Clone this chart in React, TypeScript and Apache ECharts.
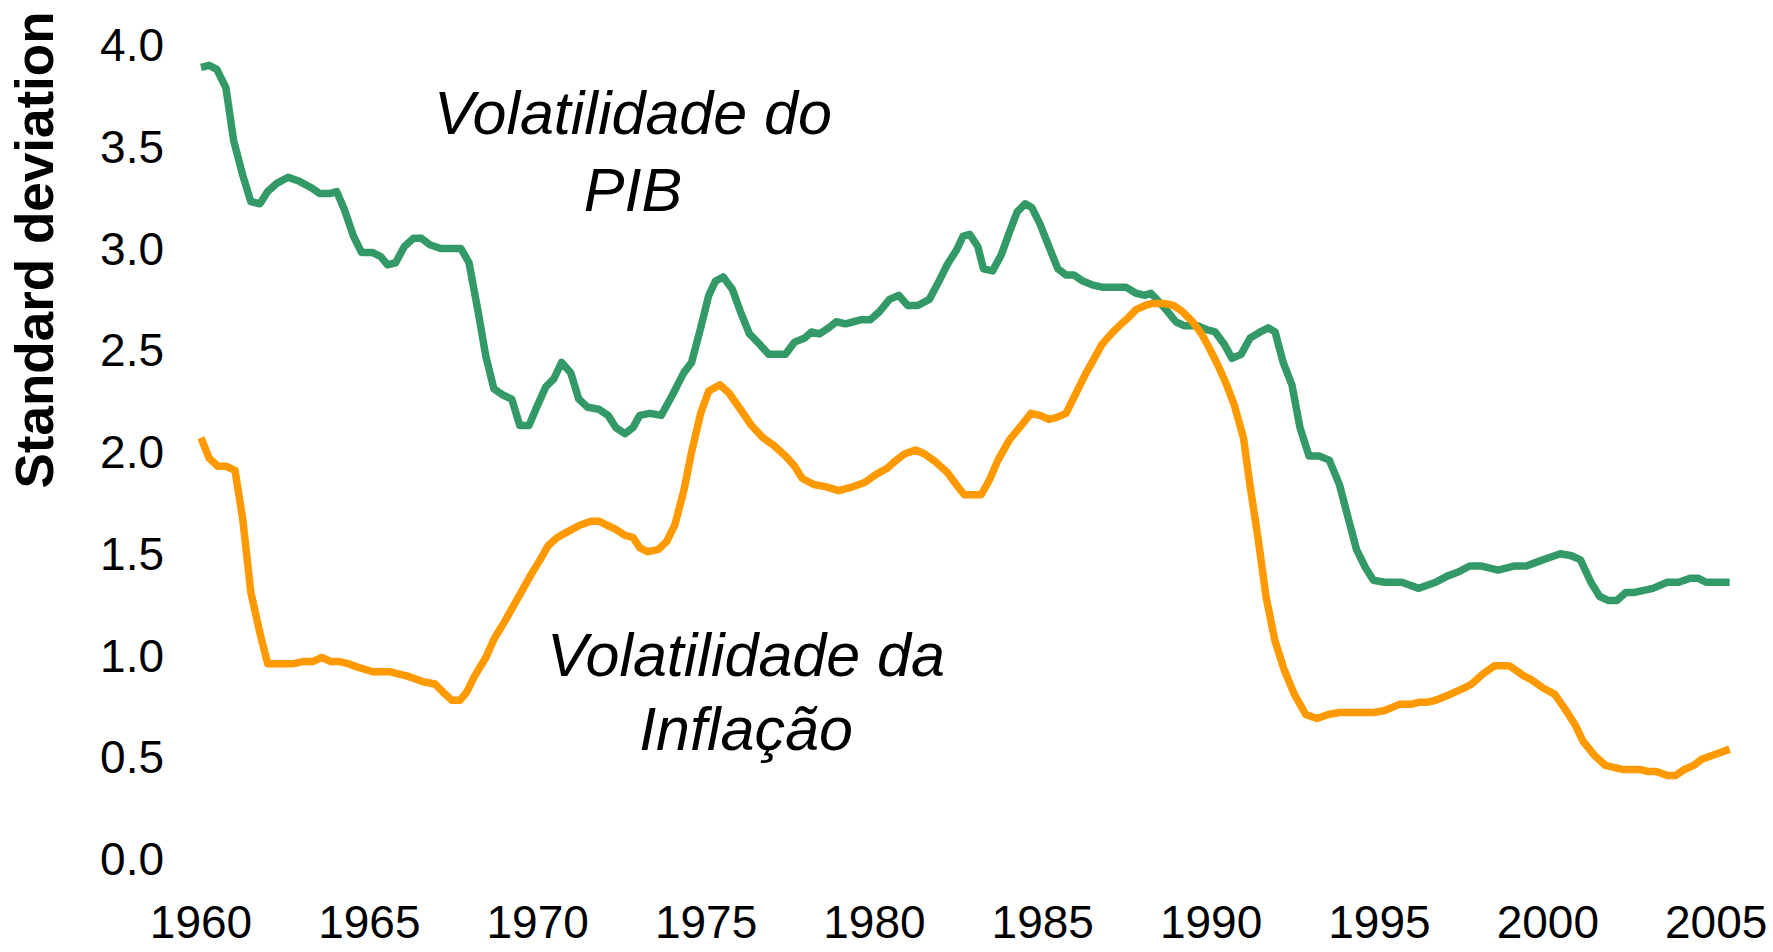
import React, { useEffect, useRef } from "react";
import * as echarts from "echarts";

const gdpYears = [1960.00,1960.24,1960.47,1960.74,1960.97,1961.24,1961.48,1961.75,1961.98,1962.25,1962.59,1962.92,1963.26,1963.53,1963.83,1964.03,1964.26,1964.53,1964.77,1965.10,1965.34,1965.54,1965.78,1966.04,1966.31,1966.55,1966.78,1967.12,1967.45,1967.72,1967.96,1968.23,1968.46,1968.70,1968.97,1969.23,1969.47,1969.74,1969.97,1970.24,1970.48,1970.71,1970.98,1971.22,1971.48,1971.82,1972.09,1972.32,1972.59,1972.83,1973.03,1973.33,1973.67,1974.00,1974.34,1974.57,1974.84,1975.08,1975.28,1975.51,1975.78,1976.02,1976.29,1976.59,1976.86,1977.19,1977.36,1977.63,1977.93,1978.13,1978.37,1978.64,1978.87,1979.14,1979.38,1979.61,1979.88,1980.15,1980.45,1980.72,1980.99,1981.29,1981.63,1981.89,1982.16,1982.43,1982.63,1982.83,1983.07,1983.24,1983.51,1983.77,1984.01,1984.24,1984.48,1984.68,1984.92,1985.18,1985.45,1985.69,1985.92,1986.19,1986.49,1986.76,1987.27,1987.47,1987.77,1988.04,1988.21,1988.44,1988.71,1988.95,1989.21,1989.62,1989.89,1990.12,1990.39,1990.62,1990.89,1991.16,1991.46,1991.70,1991.90,1992.14,1992.40,1992.64,1992.91,1993.21,1993.51,1993.81,1994.08,1994.32,1994.59,1994.82,1995.16,1995.66,1996.17,1996.67,1997.01,1997.34,1997.68,1998.01,1998.52,1999.02,1999.36,1999.69,2000.03,2000.37,2000.70,2000.97,2001.28,2001.54,2001.81,2002.05,2002.32,2002.58,2003.12,2003.55,2003.89,2004.23,2004.46,2004.70,2005.40];
const gdpValues = [3.89,3.90,3.88,3.79,3.53,3.36,3.23,3.22,3.28,3.32,3.35,3.33,3.30,3.27,3.27,3.28,3.19,3.06,2.98,2.98,2.96,2.92,2.93,3.01,3.05,3.05,3.02,3.00,3.00,3.00,2.93,2.69,2.47,2.31,2.28,2.26,2.13,2.13,2.22,2.32,2.36,2.44,2.39,2.26,2.22,2.21,2.18,2.12,2.09,2.12,2.18,2.19,2.18,2.28,2.39,2.44,2.61,2.77,2.84,2.86,2.80,2.69,2.58,2.53,2.48,2.48,2.48,2.54,2.56,2.59,2.58,2.61,2.64,2.63,2.64,2.65,2.65,2.69,2.75,2.77,2.72,2.72,2.75,2.83,2.92,2.99,3.06,3.07,3.01,2.90,2.89,2.97,3.08,3.18,3.22,3.20,3.12,3.01,2.90,2.87,2.87,2.84,2.82,2.81,2.81,2.81,2.78,2.77,2.78,2.74,2.69,2.64,2.62,2.62,2.60,2.59,2.53,2.46,2.48,2.56,2.59,2.61,2.59,2.44,2.33,2.12,1.98,1.98,1.96,1.84,1.67,1.52,1.43,1.37,1.36,1.36,1.33,1.36,1.39,1.41,1.44,1.44,1.42,1.44,1.44,1.46,1.48,1.50,1.49,1.47,1.36,1.29,1.27,1.27,1.31,1.31,1.33,1.36,1.36,1.38,1.38,1.36,1.36];

const inflYears = [1960.00,1960.24,1960.50,1960.74,1961.01,1961.24,1961.48,1961.75,1961.98,1962.42,1962.75,1963.02,1963.32,1963.59,1963.86,1964.10,1964.37,1964.70,1965.10,1965.61,1966.11,1966.62,1966.95,1967.19,1967.45,1967.69,1967.89,1968.13,1968.46,1968.70,1969.03,1969.30,1969.54,1969.81,1970.07,1970.31,1970.58,1970.91,1971.25,1971.58,1971.82,1972.06,1972.32,1972.59,1972.83,1973.03,1973.26,1973.57,1973.83,1974.07,1974.34,1974.57,1974.84,1975.08,1975.41,1975.68,1976.02,1976.35,1976.69,1977.03,1977.36,1977.63,1977.86,1978.20,1978.54,1978.94,1979.38,1979.71,1980.05,1980.38,1980.65,1980.89,1981.22,1981.49,1981.83,1982.16,1982.43,1982.67,1982.97,1983.17,1983.41,1983.67,1984.01,1984.31,1984.65,1984.92,1985.18,1985.42,1985.69,1985.99,1986.26,1986.53,1986.76,1987.03,1987.27,1987.54,1987.77,1988.04,1988.27,1988.61,1988.88,1989.15,1989.45,1989.72,1989.95,1990.22,1990.46,1990.69,1990.96,1991.16,1991.40,1991.63,1991.90,1992.17,1992.47,1992.81,1993.14,1993.48,1993.81,1994.32,1994.82,1995.16,1995.59,1995.93,1996.17,1996.40,1996.67,1997.11,1997.51,1997.74,1998.08,1998.42,1998.85,1999.29,1999.52,1999.86,2000.20,2000.54,2000.81,2001.04,2001.38,2001.71,2002.21,2002.72,2002.98,2003.22,2003.55,2003.79,2004.06,2004.33,2004.57,2004.90,2005.40];
const inflValues = [2.07,1.97,1.93,1.93,1.91,1.67,1.31,1.11,0.96,0.96,0.96,0.97,0.97,0.99,0.97,0.97,0.96,0.94,0.92,0.92,0.90,0.87,0.86,0.82,0.78,0.78,0.82,0.90,0.99,1.08,1.17,1.25,1.32,1.40,1.47,1.54,1.58,1.61,1.64,1.66,1.66,1.64,1.62,1.59,1.58,1.53,1.51,1.52,1.56,1.64,1.81,2.00,2.19,2.30,2.33,2.29,2.21,2.13,2.07,2.03,1.98,1.93,1.87,1.84,1.83,1.81,1.83,1.85,1.89,1.92,1.96,1.99,2.01,1.99,1.95,1.90,1.84,1.79,1.79,1.79,1.86,1.96,2.06,2.12,2.19,2.18,2.16,2.17,2.19,2.29,2.38,2.46,2.53,2.58,2.62,2.66,2.70,2.72,2.73,2.73,2.72,2.69,2.64,2.58,2.51,2.42,2.33,2.23,2.07,1.83,1.57,1.29,1.07,0.93,0.81,0.71,0.69,0.71,0.72,0.72,0.72,0.73,0.76,0.76,0.77,0.77,0.78,0.81,0.84,0.86,0.91,0.95,0.95,0.90,0.88,0.84,0.81,0.73,0.66,0.58,0.51,0.46,0.44,0.44,0.43,0.43,0.41,0.41,0.44,0.46,0.49,0.51,0.54];

const yTicks = [0, 0.5, 1, 1.5, 2, 2.5, 3, 3.5, 4];
const xTickYears = [1960, 1965, 1970, 1975, 1980, 1985, 1990, 1995, 2000, 2005];

const FONT = "'Liberation Sans', Arial, sans-serif";

export default function App() {
  const ref = useRef<HTMLDivElement>(null);
  useEffect(() => {
    if (!ref.current) return;
    const chart = echarts.init(ref.current, undefined, { renderer: "svg" });
    const gdp = gdpYears.map((y, i) => [y, gdpValues[i]]);
    const infl = inflYears.map((y, i) => [y, inflValues[i]]);
    chart.setOption({
      animation: false,
      backgroundColor: "#ffffff",
      grid: { left: 201, right: 40, top: 45, bottom: 93, containLabel: false },
      xAxis: {
        type: "value",
        min: 1960,
        max: 2005.5,
        interval: 5,
        axisLine: { show: false },
        axisTick: { show: false },
        splitLine: { show: false },
        axisLabel: {
          margin: 43,
          fontSize: 46,
          lineHeight: 40,
          color: "#000",
          fontFamily: FONT,
          formatter: (v: number) => (xTickYears.includes(Math.round(v * 100) / 100) ? String(v) : ""),
        },
      },
      yAxis: {
        type: "value",
        min: yTicks[0],
        max: yTicks[yTicks.length - 1],
        interval: 0.5,
        axisLine: { show: false },
        axisTick: { show: false },
        splitLine: { show: false },
        axisLabel: {
          margin: 37,
          fontSize: 46,
          color: "#000",
          fontFamily: FONT,
          formatter: (v: number) => v.toFixed(1),
        },
      },
      series: [
        {
          name: "Volatilidade do PIB",
          type: "line",
          data: gdp,
          showSymbol: false,
          lineStyle: { color: "#339966", width: 7.5, join: "round" },
          itemStyle: { color: "#339966" },
          z: 2,
        },
        {
          name: "Volatilidade da Inflação",
          type: "line",
          data: infl,
          showSymbol: false,
          lineStyle: { color: "#FF9900", width: 7.5, join: "round" },
          itemStyle: { color: "#FF9900" },
          z: 3,
        },
      ],
      graphic: [
        {
          type: "text",
          x: 34,
          y: 250,
          rotation: Math.PI / 2,
          style: {
            text: "Standard deviation",
            fontSize: 53,
            fontWeight: "bold",
            fontFamily: FONT,
            fill: "#000",
            align: "center",
            verticalAlign: "middle",
          },
        },
        {
          type: "text",
          x: 633,
          y: 151,
          style: {
            text: "Volatilidade do\nPIB",
            fontSize: 61,
            fontStyle: "italic",
            fontFamily: FONT,
            lineHeight: 77,
            fill: "#000",
            align: "center",
            verticalAlign: "middle",
          },
        },
        {
          type: "text",
          x: 746,
          y: 692,
          style: {
            text: "Volatilidade da\nInflação",
            fontSize: 61,
            fontStyle: "italic",
            fontFamily: FONT,
            lineHeight: 74,
            fill: "#000",
            align: "center",
            verticalAlign: "middle",
          },
        },
      ],
    });
    return () => chart.dispose();
  }, []);
  return (
    <div
      ref={ref}
      style={{ position: "absolute", left: 0, top: 0, width: 1773, height: 952 }}
    />
  );
}
